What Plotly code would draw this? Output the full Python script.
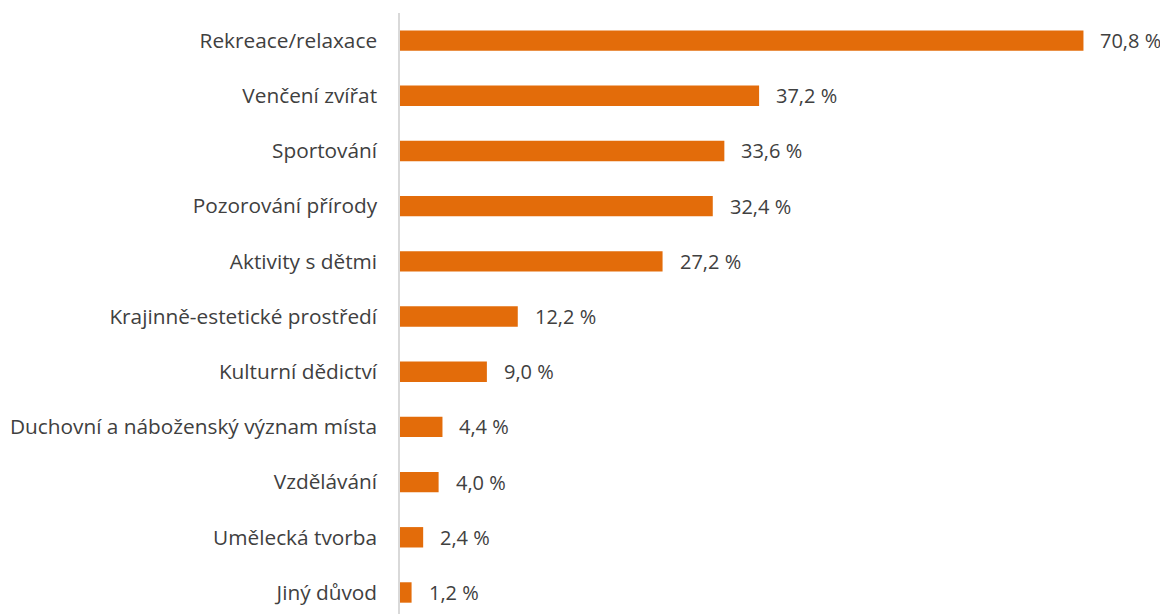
import plotly.graph_objects as go

categories = ["Rekreace/relaxace", "Venčení zvířat", "Sportování", "Pozorování přírody",
              "Aktivity s dětmi", "Krajinně-estetické prostředí", "Kulturní dědictví",
              "Duchovní a náboženský význam místa", "Vzdělávání", "Umělecká tvorba", "Jiný důvod"]
values = [70.8, 37.2, 33.6, 32.4, 27.2, 12.2, 9.0, 4.4, 4.0, 2.4, 1.2]
labels = [f"{v:.1f} %".replace(".", ",") for v in values]

font = "'Open Sans', sans-serif"
fig = go.Figure(go.Bar(
    x=values, y=categories, orientation="h",
    marker=dict(color="#E36C0A", line=dict(width=0)),
    width=0.37,
))
for v, c, t in zip(values, categories, labels):
    fig.add_annotation(x=v, y=c, text=t, showarrow=False, xanchor="left",
                       xshift=15, font=dict(size=20, color="#404040", family=font))

fig.update_layout(
    width=1160, height=606,
    margin=dict(l=392, r=43.5, t=5, b=0),
    paper_bgcolor="white", plot_bgcolor="white",
    showlegend=False,
    xaxis=dict(range=[0, 75], visible=False, fixedrange=True, automargin=False),
    yaxis=dict(type="category", categoryorder="array", categoryarray=categories,
               range=[10.39, -0.5], showline=True, linecolor="#d9d9d9", linewidth=1.5,
               showgrid=False, ticks="", ticklabelstandoff=17, automargin=False,
               tickfont=dict(size=20.8, color="#404040", family=font)),
)
fig.write_html("out.html")
